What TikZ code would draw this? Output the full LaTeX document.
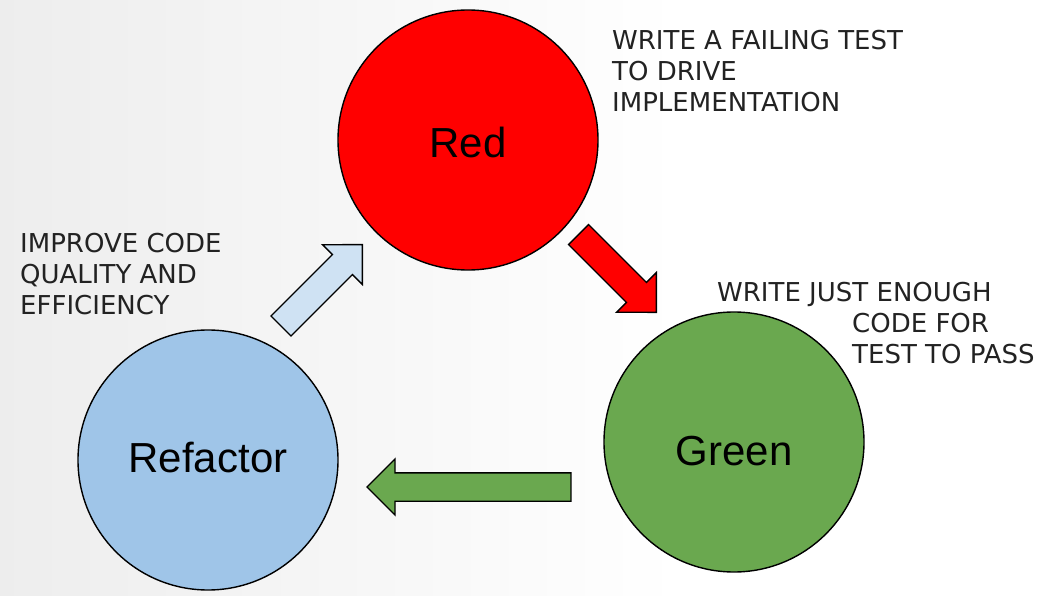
\documentclass[tikz,border=0pt]{standalone}
\usepackage{fontspec}
\setmainfont{DejaVu Sans}
\newfontfamily\arialfont{Liberation Sans}
\usetikzlibrary{shapes.arrows,calc,positioning}

\definecolor{tddred}{HTML}{FF0000}
\definecolor{tddgreen}{HTML}{6AA84F}
\definecolor{tddblue}{HTML}{9FC5E8}
\definecolor{tddlightblue}{HTML}{CFE2F3}
\definecolor{notegray}{HTML}{222222}

\tikzset{
  phase/.style={circle, draw=black, line width=1.4pt, minimum size=260pt,
    inner sep=0pt, text depth=0pt, font=\arialfont\fontsize{42}{48}\selectfont},
  blockarrow/.style={single arrow, draw=black, line width=1.3pt, anchor=tip,
    inner xsep=0pt, inner ysep=13.5pt, single arrow head extend=14pt,
    single arrow tip angle=90},
  note/.style={anchor=north west, inner sep=0pt, align=left, text=notegray,
    font=\fontsize{26}{31}\selectfont}
}

\begin{document}
\begin{tikzpicture}[x=1pt,y=-1pt]
        \useasboundingbox (0,0) rectangle (1058,596);
        % faint background
        \fill[left color=black!7, right color=white] (0,0) rectangle (680,596);

        \node[phase, fill=tddred, text height=36pt] (red) at (468,140) {Red};
        \node[phase, fill=tddgreen, text height=46pt] (green) at (734,442) {Green};
        \node[phase, fill=tddblue, text height=24pt] (refactor) at (208,460) {Refactor};

        % arrow tips
        \coordinate (redtip) at (657,313);
        \coordinate (greentip) at (366,487);
        \coordinate (bluetip) at (363,244);

        \node[blockarrow, fill=tddred, minimum height=110pt, rotate=-45] (redarrow) at (redtip) {};
        \node[blockarrow, fill=tddgreen, minimum height=204pt, rotate=180] (greenarrow) at (greentip) {};
        \node[blockarrow, fill=tddlightblue, minimum height=115pt, rotate=45] (bluearrow) at (bluetip) {};

        \node[note] (rednote) at (612,30)
          {WRITE A FAILING TEST\\TO DRIVE\\IMPLEMENTATION};
        \node[note] (greennote) at (717,282)
          {WRITE JUST ENOUGH\\\hspace*{135pt}CODE FOR\\\hspace*{135pt}TEST TO PASS};
        \node[note] (refactornote) at (20,233)
          {IMPROVE CODE\\QUALITY AND\\EFFICIENCY};
\end{tikzpicture}
\end{document}
